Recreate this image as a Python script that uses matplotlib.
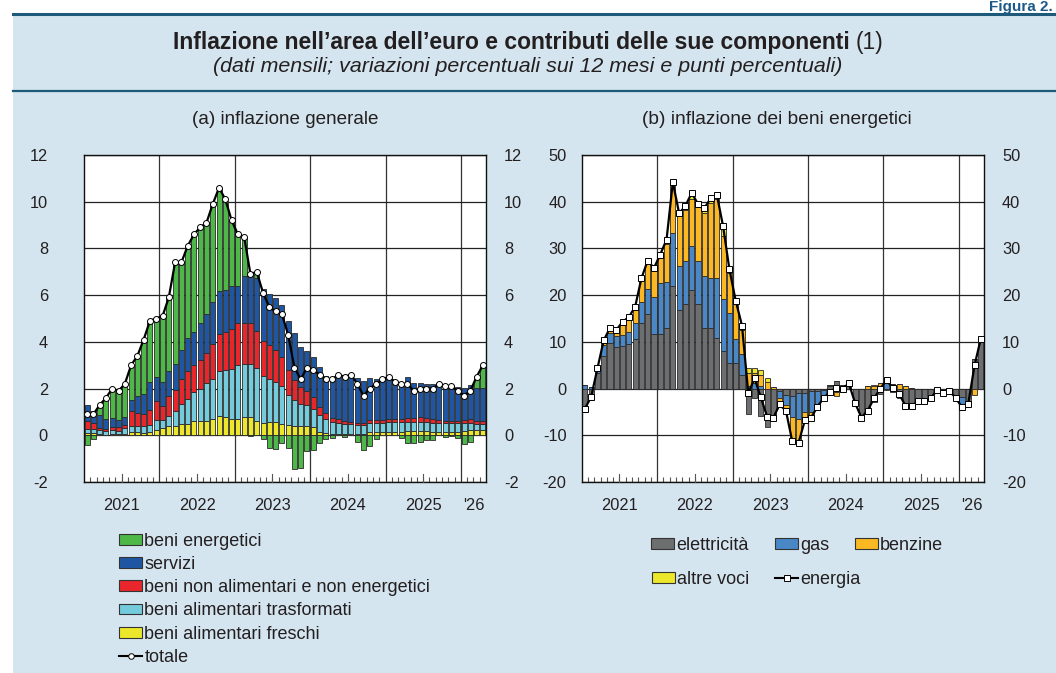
import numpy as np
import matplotlib
matplotlib.use("Agg")
import matplotlib.pyplot as plt
from matplotlib.patches import Patch, Rectangle
from matplotlib.lines import Line2D

plt.rcParams['font.family'] = ['Liberation Sans', 'DejaVu Sans']

# ---------------- data (monthly, Jan 2021 - Apr 2026) ----------------
year_labels = ['2021', '2022', '2023', '2024', '2025', "'26"]

# panel (a): contributions to headline inflation (percentage points)
freschi = [0.10, 0.08, 0.07, 0.03, 0.07, 0.05, 0.07, 0.13, 0.12, 0.10, 0.13, 0.24,
           0.31, 0.38, 0.41, 0.50, 0.50, 0.60, 0.60, 0.60, 0.69, 0.84, 0.80, 0.69,
           0.69, 0.80, 0.80, 0.60, 0.53, 0.55, 0.55, 0.50, 0.46, 0.41, 0.40, 0.40,
           0.34, 0.15, 0.10, 0.07, 0.07, 0.05, 0.05, 0.05, 0.05, 0.15, 0.15, 0.15,
           0.15, 0.15, 0.16, 0.17, 0.18, 0.18, 0.18, 0.16, 0.15, 0.15, 0.15, 0.16,
           0.20, 0.22, 0.22, 0.22]
trasformati = [0.17, 0.20, 0.17, 0.15, 0.17, 0.15, 0.24, 0.26, 0.28, 0.30, 0.33, 0.43,
               0.36, 0.46, 0.61, 0.86, 1.07, 1.25, 1.40, 1.64, 1.71, 1.90, 2.00, 2.15,
               2.32, 2.24, 2.25, 2.28, 2.00, 1.85, 1.75, 1.60, 1.28, 1.11, 0.95, 0.90,
               0.78, 0.70, 0.60, 0.50, 0.47, 0.45, 0.42, 0.40, 0.38, 0.38, 0.38, 0.38,
               0.40, 0.40, 0.40, 0.40, 0.38, 0.38, 0.38, 0.38, 0.37, 0.36, 0.36, 0.35,
               0.32, 0.30, 0.25, 0.25]
non_energetici = [0.36, 0.25, 0.07, 0.10, 0.10, 0.15, 0.11, 0.64, 0.57, 0.50, 0.61, 0.78,
                  0.60, 0.83, 0.93, 1.03, 1.17, 1.14, 1.21, 1.28, 1.50, 1.60, 1.64, 1.70,
                  1.78, 1.75, 1.74, 1.57, 1.50, 1.45, 1.35, 1.25, 1.07, 0.86, 0.70, 0.60,
                  0.50, 0.35, 0.25, 0.18, 0.15, 0.13, 0.10, 0.08, 0.08, 0.12, 0.12, 0.12,
                  0.14, 0.15, 0.14, 0.15, 0.20, 0.21, 0.20, 0.15, 0.12, 0.10, 0.10, 0.10,
                  0.14, 0.16, 0.15, 0.16]
servizi = [0.67, 0.52, 0.55, 0.40, 0.38, 0.30, 0.38, 0.47, 0.73, 0.88, 1.20, 1.03,
           1.01, 1.07, 1.10, 1.24, 1.43, 1.45, 1.60, 1.67, 1.80, 1.82, 1.78, 1.85,
           1.61, 2.04, 2.10, 2.30, 2.23, 2.20, 2.24, 2.23, 2.07, 2.00, 1.75, 1.69,
           1.75, 1.72, 1.60, 1.74, 1.87, 1.96, 2.02, 1.91, 1.83, 1.79, 1.76, 1.76,
           1.71, 1.62, 1.54, 1.79, 1.48, 1.47, 1.45, 1.52, 1.60, 1.54, 1.54, 1.46,
           1.36, 1.49, 1.40, 1.39]
energetici = [-0.40, -0.15, 0.45, 0.92, 1.25, 1.22, 1.37, 1.47, 1.64, 2.25, 2.61, 2.48,
              2.85, 3.13, 4.37, 3.80, 3.90, 4.20, 4.05, 3.93, 4.22, 4.44, 3.82, 2.79,
              2.21, 1.65, -0.05, 0.20, -0.18, -0.55, -0.60, -0.35, -0.54, -1.44, -1.40, -0.68,
              -0.61, -0.33, -0.16, -0.10, 0.00, -0.08, 0.00, -0.30, -0.61, -0.44, -0.17, 0.00,
              0.10, 0.00, -0.10, -0.35, -0.35, -0.27, -0.21, -0.19, 0.00, -0.06, -0.05, -0.13,
              -0.37, -0.28, 0.52, 1.00]
totale = [0.9, 0.9, 1.3, 1.6, 2.0, 1.9, 2.2, 3.0, 3.4, 4.1, 4.9, 5.0,
          5.1, 5.9, 7.4, 7.4, 8.1, 8.6, 8.9, 9.1, 9.9, 10.6, 10.1, 9.2,
          8.6, 8.5, 6.9, 7.0, 6.1, 5.5, 5.3, 5.2, 4.3, 2.9, 2.4, 2.9,
          2.8, 2.6, 2.4, 2.4, 2.6, 2.5, 2.6, 2.2, 1.7, 2.0, 2.2, 2.4,
          2.5, 2.3, 2.2, 2.2, 1.9, 2.0, 2.0, 2.0, 2.2, 2.1, 2.1, 1.9,
          1.7, 1.9, 2.5, 3.0]

# panel (b): contributions to energy inflation (percentage points)
elettricita = [-5.0, -2.2, 3.4, 7.0, 9.7, 8.8, 9.1, 9.5, 10.6, 14.0, 15.9, 11.6,
               11.6, 12.9, 21.9, 16.9, 18.2, 21.1, 18.2, 13.0, 13.0, 10.9, 8.1, 5.5,
               5.5, 3.0, -5.4, -2.1, -5.9, -8.2, -6.6, -0.6, -1.3, -1.5, -1.0, -1.0,
               -0.6, -0.6, -0.3, 0.5, 1.7, 0.3, 0.5, -2.8, -5.8, -5.2, -2.8, -1.2,
               -0.4, -0.8, -2.0, -3.6, -3.5, -2.6, -2.5, -2.0, -0.6, -1.0, -0.5, -1.4,
               -1.8, -2.9, 6.3, 10.8]
gas = [0.7, 0.4, 0.6, 2.4, 2.1, 2.4, 2.4, 2.6, 3.4, 4.6, 5.4, 7.9,
       11.1, 9.9, 11.4, 9.3, 9.1, 9.4, 9.1, 11.1, 10.7, 12.8, 11.0, 10.7,
       5.1, 4.4, 0.5, 1.1, 0.5, 0.0, 0.0, -1.4, -2.3, -4.5, -5.6, -4.0,
       -4.4, -2.8, -1.6, -1.4, -0.7, 0.5, 0.3, -0.3, -0.4, -0.1, 0.0, 0.4,
       1.2, 0.5, 0.0, -0.7, -0.3, -0.1, 0.0, -0.1, 0.0, 0.0, 0.0, -0.6,
       -1.9, -0.3, 0.0, 0.0]
benzine = [0.0, 0.0, 0.3, 0.9, 1.2, 1.0, 2.4, 2.7, 3.1, 4.6, 5.4, 5.8,
           5.5, 8.2, 10.9, 10.7, 11.0, 10.0, 11.8, 13.5, 16.1, 16.8, 13.5, 8.6,
           7.6, 5.2, 2.8, 2.2, 2.5, 1.5, 0.3, -1.3, -1.2, -5.3, -5.0, -1.8,
           -1.2, -0.5, -0.1, 0.2, -0.8, -0.8, 0.3, 0.0, 0.0, 0.5, 0.6, 0.7,
           0.9, 0.4, 0.9, 0.6, 0.1, 0.0, -0.1, 0.0, 0.2, 0.0, 0.0, 0.0,
           -0.3, 0.0, -1.3, -0.1]
altre_voci = [0.0, 0.0, 0.0, 0.0, 0.0, 0.3, 0.4, 0.5, 0.4, 0.4, 0.7, 0.5,
              0.5, 0.9, 0.0, 0.6, 0.8, 1.4, 0.4, 1.0, 0.9, 1.0, 2.1, 0.7,
              0.6, 0.9, 1.1, 1.0, 1.0, 0.7, 0.1, -0.1, 0.0, 0.0, 0.0, 0.0,
              0.0, 0.0, 0.0, 0.0, 0.0, 0.0, 0.0, 0.0, 0.0, 0.1, 0.1, 0.1,
              0.1, 0.0, 0.0, 0.0, 0.0, 0.0, 0.0, 0.0, 0.0, 0.0, 0.0, 0.0,
              0.0, 0.0, 0.0, 0.0]
energia = [-4.3, -1.8, 4.3, 10.3, 13.0, 12.5, 14.3, 15.3, 17.5, 23.6, 27.4, 25.8,
           28.7, 31.9, 44.2, 37.5, 39.1, 41.9, 39.5, 38.6, 40.7, 41.5, 34.7, 25.5,
           18.8, 13.5, -1.0, 2.2, -1.9, -6.0, -6.2, -3.4, -4.8, -11.3, -11.6, -6.8,
           -6.2, -3.9, -2.0, -0.7, 0.2, 0.0, 1.1, -3.1, -6.2, -4.7, -2.1, 0.0,
           1.8, 0.1, -1.1, -3.7, -3.7, -2.7, -2.6, -2.1, -0.4, -1.0, -0.5, -2.0,
           -4.0, -3.2, 5.0, 10.7]

# ---------------- styling ----------------
W, H = 1056, 673
BG = '#d4e5ef'
LINE = '#1d5a7a'
TXT = '#231f20'

C_EN = '#4db848'
C_SE = '#1f56a3'
C_NE = '#e8262b'
C_TR = '#74cbdb'
C_FR = '#ece72a'
C_EL = '#6d6e70'
C_GAS = '#4a87c7'
C_BEN = '#fbb823'
C_ALT = '#ece72a'
EDGE = '#2a2a2a'

TICK_FS = 11.8
LEG_FS = 13

fig = plt.figure(figsize=(W / 100, H / 100), dpi=100, facecolor='white')


def px(x, y):
    return x / W, 1 - y / H


# background panel and rules
fig.add_artist(Rectangle(px(13, 673), (W - 13) / W, (673 - 14) / H,
                         transform=fig.transFigure, facecolor=BG, edgecolor='none', zorder=0))
fig.add_artist(Line2D([13 / W, 1], [1 - 14 / H] * 2, transform=fig.transFigure,
                      color=LINE, lw=2.2, zorder=1))
fig.add_artist(Line2D([13 / W, 1], [1 - 90.5 / H] * 2, transform=fig.transFigure,
                      color=LINE, lw=1.6, zorder=1))

fig.text(*px(1053, 7), 'Figura 2.', ha='right', va='center', fontsize=11,
         fontweight='bold', color='#1d5a8a')

# title (bold part + normal "(1)")
TITLE_FS = 16.5
t1 = fig.text(0.5, 1 - 43 / H,
              'Inflazione nell\u2019area dell\u2019euro e contributi delle sue componenti ',
              ha='center', va='center', fontsize=TITLE_FS, fontweight='bold', color=TXT)
t2 = fig.text(0.5, 1 - 43 / H, '(1)', ha='left', va='center', fontsize=TITLE_FS, color=TXT)
fig.canvas.draw()
r = fig.canvas.get_renderer()
w1 = t1.get_window_extent(r).width
w2 = t2.get_window_extent(r).width
total_w = w1 + w2
left = W / 2 - total_w / 2
t1.set_ha('left')
t1.set_x(left / W)
t2.set_x((left + w1) / W)

fig.text(0.5, 1 - 67 / H,
         '(dati mensili; variazioni percentuali sui 12 mesi e punti percentuali)',
         ha='center', va='center', fontsize=15.4, style='italic', color=TXT)

fig.text(*px(285, 120), '(a) inflazione generale', ha='center', va='center',
         fontsize=13.6, color=TXT)
fig.text(*px(777, 120), '(b) inflazione dei beni energetici', ha='center', va='center',
         fontsize=13.8, color=TXT)

n = len(totale)
x = np.arange(n) + 0.5
year_centres = [6, 18, 30, 42, 54, 62]


def setup_axes(ax, ylim, yticks, lpad, rpad):
    ax.set_facecolor('white')
    ax.set_xlim(0, 64)
    ax.set_ylim(*ylim)
    ax.set_yticks(yticks)
    ax.set_yticklabels([str(v) for v in yticks])
    ax.tick_params(axis='y', length=0, pad=lpad, labelsize=TICK_FS, labelcolor=TXT)
    ax.grid(axis='y', color='#222222', lw=0.9)
    ax.set_axisbelow(True)
    for yb in [12, 24, 36, 48, 60]:
        ax.axvline(yb, color='#333333', lw=0.9, zorder=0.5)
    # month ticks
    ax.set_xticks([])
    months = [m for m in range(1, 64) if m % 12 != 0]
    ax.set_xticks(months, minor=True)
    ax.tick_params(axis='x', which='minor', direction='in', length=3.5, width=0.8,
                   color='#555555', bottom=True, top=False)
    for c in [6, 18, 30, 42, 54]:
        ax.plot([c, c], [0, 0.025], transform=ax.get_xaxis_transform(), color='#555555',
                lw=0.8, clip_on=False, zorder=3)
    for c, lab in zip(year_centres, year_labels):
        ax.text(c, -0.072, lab, transform=ax.get_xaxis_transform(), ha='center',
                va='center', fontsize=TICK_FS, color=TXT)
    for s in ax.spines.values():
        s.set_color('#111111')
        s.set_linewidth(1.0)
    ax2 = ax.twinx()
    ax2.set_ylim(*ylim)
    ax2.set_yticks(yticks)
    ax2.set_yticklabels([str(v) for v in yticks])
    ax2.tick_params(axis='y', length=0, pad=rpad, labelsize=TICK_FS, labelcolor=TXT)
    for s in ax2.spines.values():
        s.set_visible(False)
    return ax2


def stack(ax, comps, colors):
    pos = np.zeros(n)
    neg = np.zeros(n)
    for vals, col in zip(comps, colors):
        v = np.asarray(vals, dtype=float)
        bottom = np.where(v >= 0, pos, neg)
        ax.bar(x, v, bottom=bottom, width=0.8, color=col, edgecolor=EDGE,
               linewidth=0.6, zorder=2)
        pos += np.clip(v, 0, None)
        neg += np.clip(v, None, 0)


# ---------------- panel (a) ----------------
axa = fig.add_axes([84 / W, 1 - 482 / H, 402 / W, 327 / H])
setup_axes(axa, (-2, 12), list(range(-2, 13, 2)), 26, 13)
stack(axa, [freschi, trasformati, non_energetici, servizi, energetici],
      [C_FR, C_TR, C_NE, C_SE, C_EN])
axa.plot(x, totale, color='black', lw=1.6, marker='o', markersize=4.3,
         markerfacecolor='white', markeredgecolor='black', markeredgewidth=0.7, zorder=4)

# ---------------- panel (b) ----------------
axb = fig.add_axes([581.7 / W, 1 - 482 / H, 402.3 / W, 327 / H])
setup_axes(axb, (-20, 50), list(range(-20, 51, 10)), 11, 13)
stack(axb, [elettricita, gas, benzine, altre_voci], [C_EL, C_GAS, C_BEN, C_ALT])
axb.plot(x, energia, color='black', lw=1.6, marker='s', markersize=4.4,
         markerfacecolor='white', markeredgecolor='black', markeredgewidth=0.7, zorder=4)

# ---------------- legends ----------------
def patch(c):
    return Patch(facecolor=c, edgecolor='#333333', linewidth=0.8)


leg_a = fig.legend(
    [patch(C_EN), patch(C_SE), patch(C_NE), patch(C_TR), patch(C_FR),
     Line2D([], [], color='black', lw=1.5, marker='o', markersize=4,
            markerfacecolor='white', markeredgecolor='black', markeredgewidth=0.7)],
    ['beni energetici', 'servizi', 'beni non alimentari e non energetici',
     'beni alimentari trasformati', 'beni alimentari freschi', 'totale'],
    loc='upper left', bbox_to_anchor=px(119, 533), frameon=False, fontsize=LEG_FS,
    handlelength=1.3, handleheight=0.55, handletextpad=0.1, labelspacing=0.34,
    borderaxespad=0, borderpad=0)
for t in leg_a.get_texts():
    t.set_color(TXT)


def single(handle, label, xl, yc):
    lg = fig.legend([handle], [label], loc='center left', bbox_to_anchor=px(xl, yc),
                    frameon=False, fontsize=LEG_FS, handlelength=1.3, handleheight=0.55,
                    handletextpad=0.1, borderaxespad=0, borderpad=0)
    for t in lg.get_texts():
        t.set_color(TXT)
    return lg


single(patch(C_EL), 'elettricit\u00e0', 651, 545)
single(patch(C_GAS), 'gas', 775, 545)
single(patch(C_BEN), 'benzine', 855, 545)
single(patch(C_ALT), 'altre voci', 652, 579)
single(Line2D([], [], color='black', lw=1.5, marker='s', markersize=4.3,
              markerfacecolor='white', markeredgecolor='black', markeredgewidth=0.7),
       'energia', 775, 579)

fig.savefig('out.png', dpi=100, facecolor='white')
